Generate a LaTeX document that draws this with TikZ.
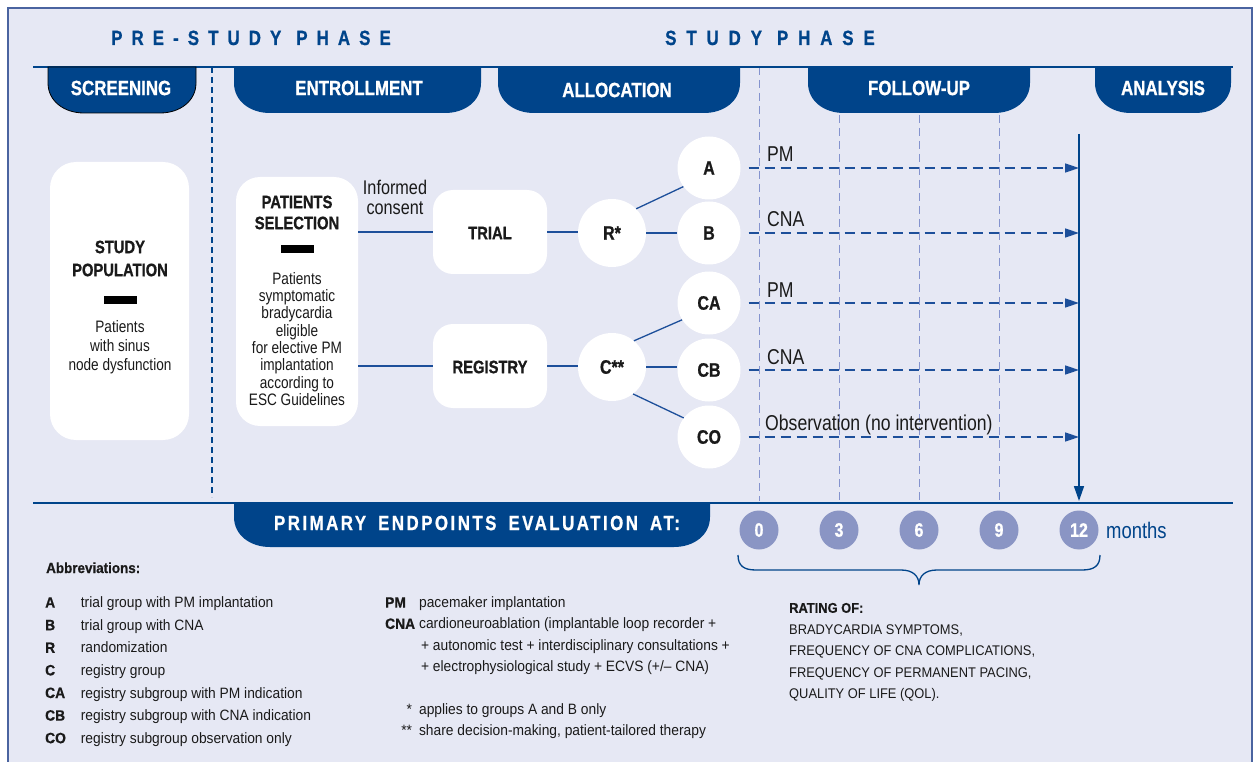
\documentclass[tikz,border=0pt]{standalone}
\usepackage{fontspec}
\setmainfont{Liberation Sans}[FakeStretch=0.82,BoldFeatures={FakeBold=0.8}]
\newfontfamily\legendfont{Liberation Sans}[FakeStretch=0.92,BoldFeatures={FakeBold=0.6}]
\newfontfamily\phasefont{Liberation Sans}[FakeStretch=0.82,LetterSpace=44,BoldFeatures={FakeBold=0.8}]
\newfontfamily\bandfont{Liberation Sans}[FakeStretch=0.82,LetterSpace=12,BoldFeatures={FakeBold=0.8}]
\usetikzlibrary{arrows.meta}

\definecolor{bg}{HTML}{E6E8F4}
\definecolor{navy}{HTML}{00448A}
\definecolor{linkblue}{HTML}{1D4F9A}
\definecolor{gridblue}{HTML}{8493CE}
\definecolor{dotblue}{HTML}{8A95C4}
\definecolor{framecol}{HTML}{4A64A0}
\definecolor{ink}{HTML}{1A1A1A}

% hanging phase tab: left x, right x, top y, height
\newcommand\phasetab[5][]{%
  \path[tabfill,#1] (#2,#4) -- (#2,#4+#5-30)
    .. controls (#2,#4+#5-12) and (#2+16,#4+#5) .. (#2+36,#4+#5)
    -- (#3-36,#4+#5)
    .. controls (#3-16,#4+#5) and (#3,#4+#5-12) .. (#3,#4+#5-30)
    -- (#3,#4) -- cycle;}

\begin{document}
\begin{tikzpicture}[x=1pt,y=-1pt,
  tabfill/.style={fill=navy},
  tabtext/.style={text=white,font=\fontsize{20.6}{24}\selectfont\bfseries,inner sep=0},
  box/.style={fill=white,inner sep=0},
  boxtitle/.style={text=ink,font=\fontsize{18}{23}\selectfont\bfseries,align=center,inner sep=0},
  boxbody/.style={text=ink,font=\fontsize{16.6}{17.3}\selectfont,align=center,inner sep=0},
  bar/.style={fill=black,minimum width=33,minimum height=8,inner sep=0},
  grp/.style={circle,fill=white,minimum size=63,inner sep=0,text=ink,
    font=\fontsize{19.5}{22}\selectfont\bfseries},
  rnd/.style={grp,minimum size=68},
  link/.style={draw=linkblue,line width=1.3},
  flow/.style={draw=linkblue,line width=1.6,dash pattern=on 10pt off 6pt,
    shorten <=8pt,-{Triangle[length=14pt,width=9pt]}},
  armlabel/.style={text=ink,font=\fontsize{21.5}{24}\selectfont,anchor=base west,inner sep=0},
  gridline/.style={draw=gridblue,line width=1,dash pattern=on 8pt off 5pt},
  month/.style={circle,fill=dotblue,minimum size=39,inner sep=0,text=white,
    font=\fontsize{19.5}{22}\selectfont\bfseries},
  leg/.style={text=ink,inner sep=0,font=\legendfont\fontsize{15}{22.6}\selectfont},
]
\useasboundingbox (0,0) rectangle (1256,762);
\fill[white] (0,0) rectangle (1256,762);
\filldraw[fill=bg,draw=framecol,line width=1.2] (8,8) rectangle (1252,790);

% phase titles
\node[anchor=base west,inner sep=0,text=navy,font=\phasefont\bfseries\fontsize{20.6}{24}\selectfont]
  (prestudy) at (111,45) {PRE-STUDY\hspace{15pt}PHASE};
\node[anchor=base west,inner sep=0,text=navy,font=\phasefont\bfseries\fontsize{20.6}{24}\selectfont]
  (study) at (665,45) {\addfontfeature{LetterSpace=48}STUDY\hspace{15pt}PHASE};

% background guides of the follow-up grid
\draw[gridline] (759,67) -- (759,501);
\foreach \gx in {839,919,999} \draw[gridline] (\gx,115) -- (\gx,501);
\draw[navy,line width=1.2,dash pattern=on 6pt off 4pt] (212,67) -- (212,497);

% header rule and tabs
\draw[navy,line width=2] (33,67) -- (1233,67);
\phasetab[draw=black,line width=0.8]{48}{196}{67}{46}
\phasetab{234}{481}{67}{46}
\phasetab{498}{740}{67}{46}
\phasetab{808}{1030}{67}{46}
\phasetab{1095}{1231}{67}{46}
\node[tabtext] (tscreen) at (121,88) {SCREENING};
\node[tabtext] (tenrol) at (359,88) {ENTROLLMENT};
\node[tabtext] (talloc) at (617,90) {ALLOCATION};
\node[tabtext] (tfollow) at (919,88) {FOLLOW-UP};
\node[tabtext] (tanal) at (1163,88) {ANALYSIS};

% footer rule and tab
\draw[navy,line width=2] (33,502.5) -- (1233,502.5);
\phasetab{234}{710}{502}{45}
\node[inner sep=0,text=white,font=\bandfont\bfseries\fontsize{20.6}{24}\selectfont]
  (tprimary) at (477,523) {PRIMARY\hspace{12pt}ENDPOINTS\hspace{12pt}EVALUATION\hspace{12pt}AT:};

% study population
\node[box,rounded corners=26,minimum width=139,minimum height=278] (pop) at (119.5,301) {};
\node[boxtitle] (popt) at (120,258.5) {STUDY\\POPULATION};
\node[bar] (popbar) at (120,300) {};
\node[boxbody,font=\fontsize{16.6}{19}\selectfont] (popb) at (120,347) {Patients\\with sinus\\node dysfunction};

% patients selection
\node[box,rounded corners=24,minimum width=122,minimum height=249] (sel) at (297,301.5) {};
\node[boxtitle,font=\fontsize{18}{21}\selectfont\bfseries] (selt) at (297,212.5) {PATIENTS\\SELECTION};
\node[bar] (selbar) at (297,249) {};
\node[boxbody] (selb) at (297,339) {Patients\\symptomatic\\bradycardia\\eligible\\for elective PM\\implantation\\according to\\ESC Guidelines};

% trial / registry
\node[box,rounded corners=20,minimum width=114,minimum height=84] (trial) at (490,232) {};
\node[boxtitle] (trialt) at (490,233) {TRIAL};
\node[box,rounded corners=20,minimum width=114,minimum height=84] (reg) at (490,366) {};
\node[boxtitle] (regt) at (490,367) {REGISTRY};
\node[inner sep=0,align=center,text=ink,font=\fontsize{19.8}{20}\selectfont] (consent) at (395,197) {Informed\\consent};

% allocation circles
\node[rnd] (R) at (612,233) {R*};
\node[rnd] (C) at (612,367) {C**};
\node[grp] (A) at (709,168) {A};
\node[grp] (B) at (709,233) {B};
\node[grp] (CA) at (709,303) {CA};
\node[grp] (CB) at (709,370) {CB};
\node[grp] (CO) at (709,437) {CO};

% connectors
\draw[link] (sel.east |- trial.west) -- (trial.west);
\draw[link] (sel.east |- reg.west) -- (reg.west);
\draw[link] (trial.east) -- (trial.east -| R.west);
\draw[link] (reg.east) -- (reg.east -| C.west);
\draw[link] (R.45) -- (A.216);
\draw[link] (R.east) -- (B.west);
\draw[link] (C.50) -- (CA.212);
\draw[link] (C.east) -- (C.east -| CB.west);
\draw[link] (C.-52) -- (CO.143);

% analysis arrow and follow-up arms
\coordinate (vtop) at (1079,134);
\coordinate (vbot) at (1079,501);
\draw[navy,line width=1.6,-{Triangle[length=15pt,width=10pt]}] (vtop) -- (vbot);
\foreach \g in {A,B,CA,CB,CO} \draw[flow] (\g.east) -- (\g.east -| vtop);
\node[armlabel] (lA) at (767,162) {PM};
\node[armlabel] (lB) at (767,227) {CNA};
\node[armlabel] (lCA) at (767,297) {PM};
\node[armlabel] (lCB) at (767,364) {CNA};
\node[armlabel] (lCO) at (765,430) {Observation (no intervention)};

% time points
\node[month] (m0) at (759,530) {0};
\node[month] (m3) at (839,530) {3};
\node[month] (m6) at (919,530) {6};
\node[month] (m9) at (999,530) {9};
\node[month] (m12) at (1079,530) {12};
\node[anchor=west,inner sep=0,text=navy,font=\fontsize{22.5}{24}\selectfont] (months) at (1106,530) {months};
\draw[navy,line width=1.3] (738,555) .. controls (738,566) and (744,570) .. (756,570) -- (901,570)
  .. controls (913,570) and (919,576) .. (919,585)
  .. controls (919,576) and (925,570) .. (937,570) -- (1082,570)
  .. controls (1094,570) and (1100,566) .. (1100,555);

% legend
\node[leg,anchor=base west,font=\legendfont\bfseries\fontsize{14.6}{17}\selectfont] (abbrev) at (46,573) {Abbreviations:};
\node[leg,anchor=north west] (abbrl) at (45,591.6) {%
  \begin{tabular}{@{}l@{\hspace{15pt}}l@{}}
  \textbf{A} & trial group with PM implantation\\
  \textbf{B} & trial group with CNA\\
  \textbf{R} & randomization\\
  \textbf{C} & registry group\\
  \textbf{CA} & registry subgroup with PM indication\\
  \textbf{CB} & registry subgroup with CNA indication\\
  \textbf{CO} & registry subgroup observation only
  \end{tabular}};
\node[leg,anchor=north west,font=\legendfont\fontsize{15}{21.3}\selectfont] (abbrm) at (385,592.5) {%
  \begin{tabular}{@{}l@{\hspace{4pt}}l@{}}
  \textbf{PM} & pacemaker implantation\\
  \textbf{CNA} & cardioneuroablation (implantable loop recorder +\\
  & \hspace{2pt}+ autonomic test + interdisciplinary consultations +\\
  & \hspace{2pt}+ electrophysiological study + ECVS (+/– CNA)\\
  & \\
  \hfill*\hspace{3pt} & applies to groups A and B only\\
  \hfill**\hspace{3pt} & share decision-making, patient-tailored therapy
  \end{tabular}};
\node[leg,anchor=north west,font=\legendfont\fontsize{14}{21.5}\selectfont] (rating) at (789,597.5) {%
  \begin{tabular}{@{}l@{}}
  \textbf{RATING OF:}\\
  BRADYCARDIA SYMPTOMS,\\
  FREQUENCY OF CNA COMPLICATIONS,\\
  FREQUENCY OF PERMANENT PACING,\\
  QUALITY OF LIFE (QOL).
  \end{tabular}};
\end{tikzpicture}
\end{document}
